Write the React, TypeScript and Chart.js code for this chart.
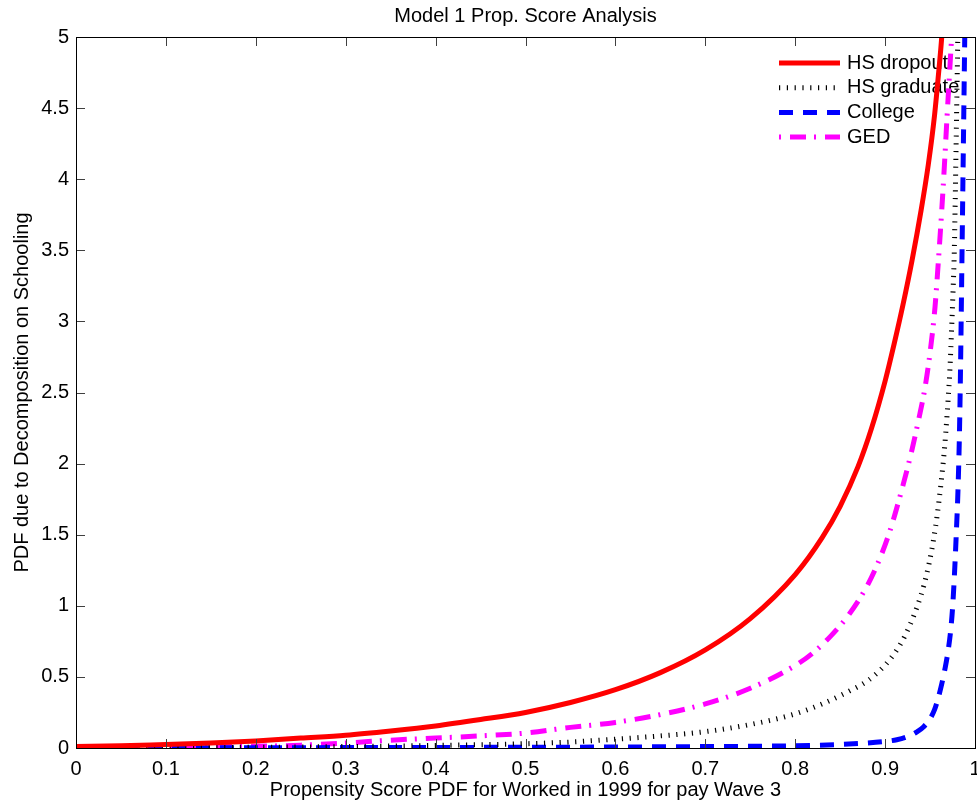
import React, { useEffect, useRef } from "react";
import { Chart, registerables } from "chart.js";

Chart.register(...registerables);

const TITLE = "Model 1 Prop. Score Analysis";
const X_LABEL = "Propensity Score PDF for Worked in 1999 for pay Wave 3";
const Y_LABEL = "PDF due to Decomposition on Schooling";

const X_TICKS = [0, 0.1, 0.2, 0.3, 0.4, 0.5, 0.6, 0.7, 0.8, 0.9, 1];
const Y_TICKS = [0, 0.5, 1, 1.5, 2, 2.5, 3, 3.5, 4, 4.5, 5];

const SERIES_NAMES = ["HS dropout", "HS graduate", "College", "GED"];

// HS dropout (red, solid)
const dropoutX = [0, 0.05, 0.1, 0.15, 0.2, 0.25, 0.3, 0.35, 0.4, 0.45, 0.5, 0.55, 0.6, 0.65, 0.7, 0.75, 0.8, 0.83, 0.85, 0.87, 0.885, 0.9, 0.91, 0.92, 0.93, 0.94, 0.948, 0.955, 0.96, 0.963, 0.966];
const dropoutY = [0.01, 0.015, 0.025, 0.035, 0.05, 0.07, 0.09, 0.12, 0.155, 0.2, 0.25, 0.32, 0.41, 0.53, 0.69, 0.91, 1.22, 1.48, 1.7, 1.98, 2.25, 2.58, 2.84, 3.12, 3.43, 3.78, 4.1, 4.45, 4.78, 5.0, 5.3];

// HS graduate (black, dotted)
const graduateX = [0, 0.1, 0.2, 0.3, 0.4, 0.5, 0.55, 0.6, 0.65, 0.7, 0.75, 0.8, 0.83, 0.86, 0.88, 0.895, 0.905, 0.918, 0.928, 0.936, 0.943, 0.949, 0.954, 0.958, 0.962, 0.966, 0.969, 0.972, 0.974, 0.9755, 0.977, 0.978, 0.979, 0.98, 0.981];
const graduateY = [0.002, 0.003, 0.005, 0.01, 0.018, 0.03, 0.042, 0.062, 0.085, 0.115, 0.165, 0.24, 0.31, 0.4, 0.47, 0.55, 0.62, 0.74, 0.87, 1.0, 1.14, 1.3, 1.47, 1.64, 1.85, 2.1, 2.35, 2.65, 2.95, 3.2, 3.5, 3.85, 4.25, 4.65, 5.05];

// College (blue, dashed)
const collegeX = [0, 0.1, 0.2, 0.3, 0.4, 0.5, 0.6, 0.7, 0.75, 0.8, 0.85, 0.88, 0.9, 0.913, 0.925, 0.935, 0.943, 0.95, 0.955, 0.959, 0.963, 0.967, 0.97, 0.973, 0.975, 0.977, 0.979, 0.981, 0.9825, 0.9835, 0.9845, 0.9855, 0.9865, 0.9875, 0.9885, 0.989];
const collegeY = [0.002, 0.002, 0.002, 0.003, 0.004, 0.005, 0.007, 0.01, 0.012, 0.016, 0.025, 0.035, 0.046, 0.058, 0.08, 0.112, 0.15, 0.205, 0.27, 0.35, 0.45, 0.57, 0.68, 0.83, 0.98, 1.2, 1.48, 1.8, 2.15, 2.5, 2.95, 3.45, 3.95, 4.45, 4.95, 5.2];

// GED (magenta, dash-dot)
const gedX = [0, 0.1, 0.2, 0.25, 0.3, 0.35, 0.4, 0.45, 0.5, 0.55, 0.6, 0.65, 0.7, 0.75, 0.8, 0.82, 0.84, 0.86, 0.88, 0.892, 0.905, 0.92, 0.93, 0.937, 0.944, 0.95, 0.9555, 0.959, 0.963, 0.966, 0.969, 0.972, 0.974, 0.976];
const gedY = [0.005, 0.007, 0.012, 0.02, 0.035, 0.055, 0.07, 0.085, 0.105, 0.145, 0.18, 0.235, 0.31, 0.42, 0.58, 0.67, 0.79, 0.94, 1.14, 1.3, 1.52, 1.85, 2.1, 2.3, 2.52, 2.78, 3.1, 3.4, 3.78, 4.1, 4.45, 4.78, 5.0, 5.25];

const FONT = "'Liberation Sans', Arial, Helvetica, sans-serif";

const toPoints = (xs: number[], ys: number[]) => xs.map((x, i) => ({ x, y: ys[i] }));

const axesPlugin = {
  id: "matlabAxes",
  afterDatasetsDraw(chart: any) {
    const { ctx, chartArea } = chart;
    const { left, right, top, bottom } = chartArea;
    const xs = chart.scales.x;
    const ys = chart.scales.y;
    ctx.save();
    ctx.lineWidth = 1;
    ctx.strokeStyle = "#404040";
    const tl = 9;
    ctx.beginPath();
    X_TICKS.forEach((v) => {
      const px = Math.round(xs.getPixelForValue(v)) + 0.5;
      ctx.moveTo(px, bottom);
      ctx.lineTo(px, bottom - tl);
      ctx.moveTo(px, top);
      ctx.lineTo(px, top + tl);
    });
    Y_TICKS.forEach((v) => {
      const py = Math.round(ys.getPixelForValue(v)) + 0.5;
      ctx.moveTo(left, py);
      ctx.lineTo(left + tl, py);
      ctx.moveTo(right, py);
      ctx.lineTo(right - tl, py);
    });
    ctx.stroke();
    ctx.strokeStyle = "#000";
    ctx.strokeRect(Math.round(left) + 0.5, Math.round(top) + 0.5, Math.round(right - left), Math.round(bottom - top));
    ctx.restore();
  },
};

const legendPlugin = {
  id: "matlabLegend",
  beforeDatasetsDraw(chart: any) {
    const { ctx, chartArea } = chart;
    const x0 = chartArea.right - 196;
    const x1 = chartArea.right - 135;
    const tx = chartArea.right - 128;
    ctx.save();
    chart.data.datasets.forEach((ds: any, i: number) => {
      const y = chartArea.top + 26 + i * 24.7;
      ctx.beginPath();
      ctx.strokeStyle = ds.borderColor;
      ctx.lineWidth = ds.borderWidth;
      ctx.lineCap = "butt";
      ctx.setLineDash(ds.borderDash || []);
      ctx.lineDashOffset = ds.legendDashOffset || 0;
      ctx.moveTo(x0, y);
      ctx.lineTo(x1, y);
      ctx.stroke();
      ctx.setLineDash([]);
      ctx.fillStyle = "#000";
      ctx.font = `20px ${FONT}`;
      ctx.textAlign = "left";
      ctx.textBaseline = "middle";
      ctx.fillText(ds.label, tx, y);
    });
    ctx.restore();
  },
};

export default function App() {
  const ref = useRef<HTMLCanvasElement | null>(null);

  useEffect(() => {
    document.body.style.margin = "0";
    const canvas = ref.current;
    if (!canvas) return;
    const common = { pointRadius: 0, pointHoverRadius: 0, fill: false, cubicInterpolationMode: "monotone", clip: 0, borderCapStyle: "butt" };
    const chart = new Chart(canvas, {
      type: "line",
      data: {
        datasets: [
          { ...common, label: SERIES_NAMES[0], data: toPoints(dropoutX, dropoutY), borderColor: "#ff0000", borderWidth: 5 },
          { ...common, label: SERIES_NAMES[1], data: toPoints(graduateX, graduateY), borderColor: "#000000", borderWidth: 5, borderDash: [1.2, 6.6] },
          { ...common, label: SERIES_NAMES[2], data: toPoints(collegeX, collegeY), borderColor: "#0000ff", borderWidth: 5, borderDash: [14, 10] },
          { ...common, label: SERIES_NAMES[3], data: toPoints(gedX, gedY), borderColor: "#ff00ff", borderWidth: 5, borderDash: [16, 8, 2, 9], legendDashOffset: 24 },
        ] as any,
      },
      options: {
        responsive: false,
        animation: false,
        events: [],
        layout: { padding: { top: 0, right: 2, bottom: 0, left: 0 } },
        plugins: {
          legend: { display: false },
          tooltip: { enabled: false },
          title: {
            display: true,
            text: TITLE,
            fullSize: false,
            color: "#000",
            font: { family: FONT, size: 20, weight: "normal" as any, lineHeight: 1.2 },
            padding: { top: 4, bottom: 9 },
          },
        },
        scales: {
          x: {
            type: "linear",
            min: 0,
            max: 1,
            grid: { display: false, drawTicks: false },
            border: { display: false },
            afterBuildTicks: (s: any) => {
              s.ticks = X_TICKS.map((v) => ({ value: v }));
            },
            afterFit: (s: any) => {
              s.height = 55;
              s.paddingLeft = 0;
              s.paddingRight = 0;
            },
            ticks: {
              color: "#000",
              padding: 9,
              maxRotation: 0,
              autoSkip: false,
              font: { family: FONT, size: 20 },
              callback: (v: any) => String(v),
            },
            title: {
              display: true,
              text: X_LABEL,
              color: "#000",
              font: { family: FONT, size: 20, lineHeight: 1.2 },
              padding: { top: 0, bottom: 1 },
            },
          },
          y: {
            type: "linear",
            min: 0,
            max: 5,
            grid: { display: false, drawTicks: false },
            border: { display: false },
            afterBuildTicks: (s: any) => {
              s.ticks = Y_TICKS.map((v) => ({ value: v }));
            },
            afterFit: (s: any) => {
              s.width = 76;
              s.paddingTop = 0;
              s.paddingBottom = 0;
            },
            ticks: {
              color: "#000",
              padding: 7,
              autoSkip: false,
              font: { family: FONT, size: 20 },
              callback: (v: any) => String(v),
            },
            title: {
              display: true,
              text: Y_LABEL,
              color: "#000",
              font: { family: FONT, size: 20, lineHeight: 1.2 },
              padding: { top: 10, bottom: 0 },
            },
          },
        },
      },
      plugins: [legendPlugin, axesPlugin],
    } as any);
    return () => chart.destroy();
  }, []);

  return (
    <div style={{ position: "fixed", left: 0, top: 0, width: 977, height: 803, background: "#fff" }}>
      <canvas ref={ref} width={977} height={803} style={{ width: 977, height: 803, display: "block" }} />
    </div>
  );
}
